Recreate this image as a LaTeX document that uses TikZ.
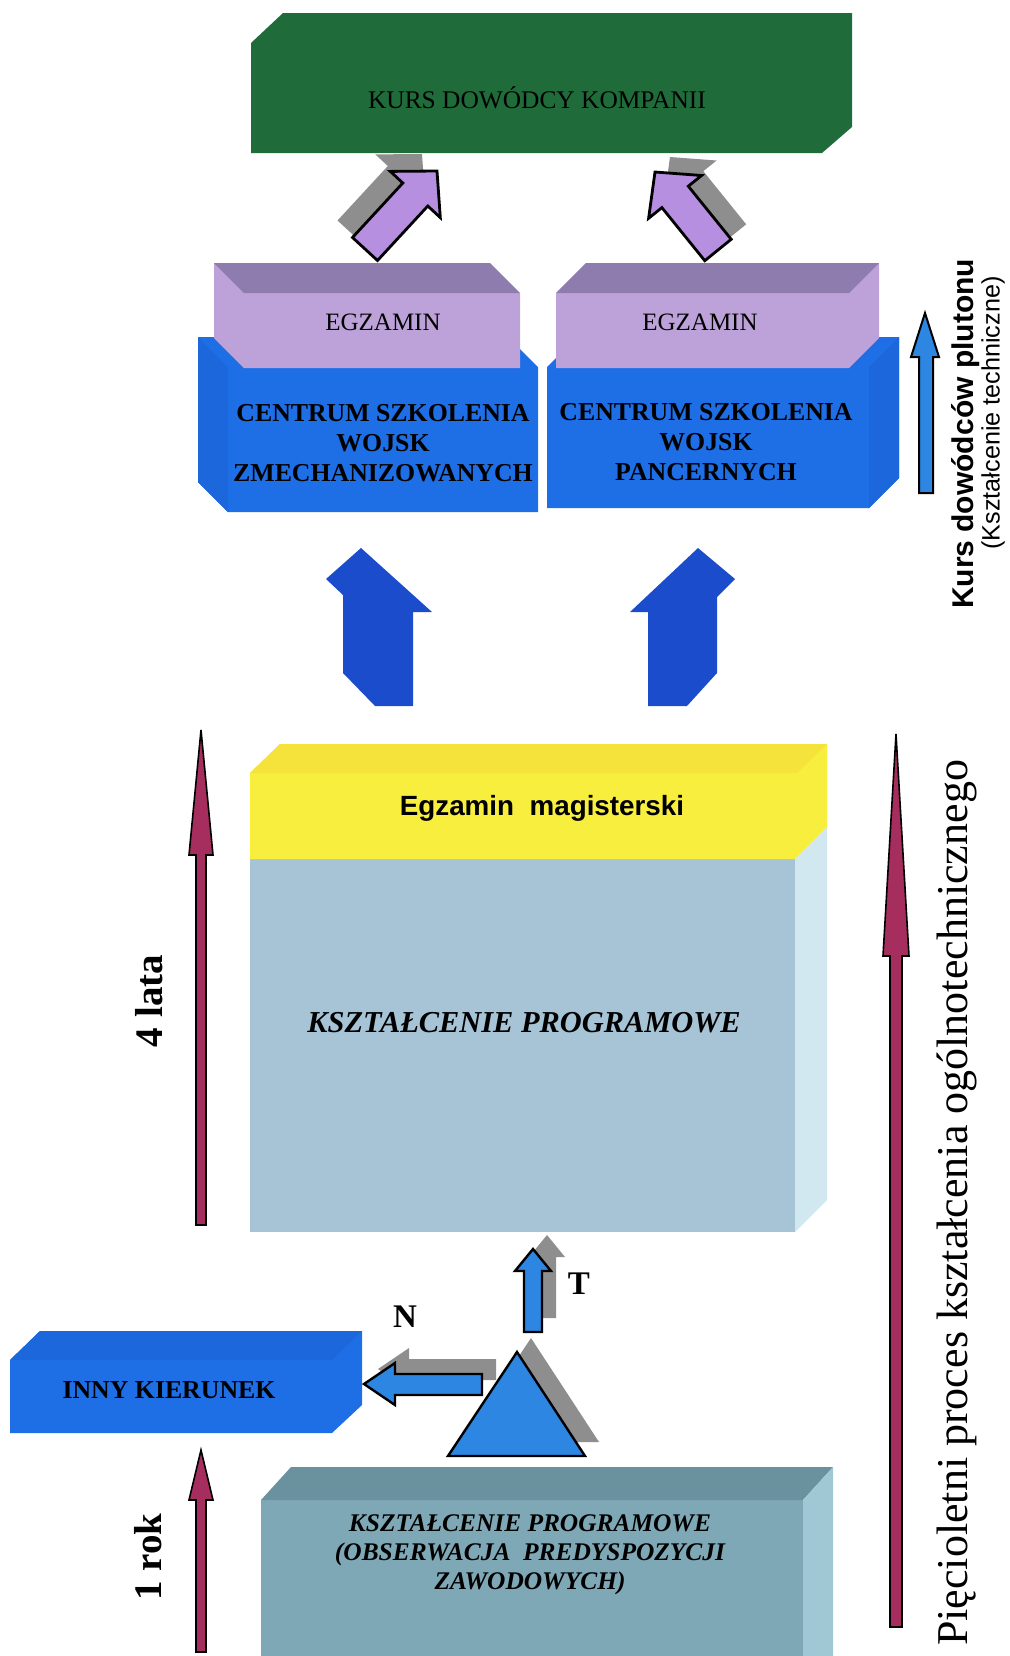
\documentclass[tikz,border=0pt]{standalone}
\usepackage{fontspec}
\setmainfont{Liberation Serif}
\setsansfont{Liberation Sans}
\definecolor{kgreen}{HTML}{1F6B3A}
\definecolor{lilacarrow}{HTML}{B68FE0}
\definecolor{lilactop}{HTML}{8E7CAE}
\definecolor{lilacfront}{HTML}{BDA2DA}
\definecolor{bluebox}{HTML}{1E6EE6}
\definecolor{blueboxtop}{HTML}{1C67DC}
\definecolor{bluedark}{HTML}{1A4CCB}
\definecolor{bluelight}{HTML}{2C86E2}
\definecolor{shadowgray}{HTML}{8E8E8E}
\definecolor{yel}{HTML}{F8EE3E}
\definecolor{yeltop}{HTML}{F5E23A}
\definecolor{lightblue}{HTML}{A6C4D6}
\definecolor{lightblueside}{HTML}{D2E8F0}
\definecolor{tealfront}{HTML}{7EA8B6}
\definecolor{tealtop}{HTML}{6A929E}
\definecolor{tealside}{HTML}{A0C8D4}
\definecolor{maroonarrow}{HTML}{A62E5E}
\begin{document}
\begin{tikzpicture}[x=0.5pt,y=-0.5pt,
  outl/.style={draw=black,line width=1.4pt,line join=miter},
  marr/.style={fill=maroonarrow,draw=black,line width=0.8pt,line join=miter},
  lbl/.style={inner sep=0pt,align=center,text=black}]
\path[use as bounding box] (0,0) rectangle (1010,1656);
\clip (0,0) rectangle (1010,1656);

% ---------- purple diagonal arrows (shadows first) ----------
\begin{scope}[shift={(-15,-17)}]
  \fill[shadowgray] (352.5,237.5) -- (402.8,183) -- (390.3,171.4) -- (437,171) -- (440.3,217.6) -- (427.8,206) -- (377.5,260.5) -- cycle;
\end{scope}
\begin{scope}[shift={(15,-15)}]
  \fill[shadowgray] (704.8,260.7) -- (661.9,207.6) -- (648.6,218.3) -- (655,172) -- (701.6,175.5) -- (688.3,186.2) -- (731.2,239.3) -- cycle;
\end{scope}
\draw[outl,fill=lilacarrow] (352.5,237.5) -- (402.8,183) -- (390.3,171.4) -- (437,171) -- (440.3,217.6) -- (427.8,206) -- (377.5,260.5) -- cycle;
\draw[outl,fill=lilacarrow] (704.8,260.7) -- (661.9,207.6) -- (648.6,218.3) -- (655,172) -- (701.6,175.5) -- (688.3,186.2) -- (731.2,239.3) -- cycle;

% ---------- green box ----------
\fill[kgreen] (251,43) -- (283,13) -- (852,13) -- (852,127) -- (822,153) -- (251,153) -- cycle;
\node[lbl,anchor=base,font=\fontsize{12.7}{15}\selectfont] (kurs) at (537,108) {KURS DOWÓDCY KOMPANII};

% ---------- blue boxes ----------
\fill[bluebox] (198,337) -- (508,337) -- (538,367) -- (538,512) -- (228,512) -- (198,482) -- cycle;
\fill[blueboxtop] (198,337) -- (228,367) -- (228,512) -- (198,482) -- cycle;
\fill[bluebox] (547,367) -- (577,337) -- (899,337) -- (899,478) -- (869,508) -- (547,508) -- cycle;
\fill[blueboxtop] (869,367) -- (899,337) -- (899,478) -- (869,508) -- cycle;

% ---------- purple exam boxes ----------
\fill[lilacfront] (214,263) -- (490,263) -- (520,293) -- (520,368) -- (244,368) -- (214,338) -- cycle;
\fill[lilactop] (214,263) -- (490,263) -- (520,293) -- (244,293) -- cycle;
\fill[lilacfront] (556,293) -- (586,263) -- (879,263) -- (879,338) -- (849,368) -- (556,368) -- cycle;
\fill[lilactop] (556,293) -- (586,263) -- (879,263) -- (849,293) -- cycle;

\node[lbl,font=\fontsize{12.5}{15}\selectfont] (egz1) at (383,322) {EGZAMIN};
\node[lbl,font=\fontsize{12.5}{15}\selectfont] (egz2) at (700,322) {EGZAMIN};
\node[lbl,font=\bfseries\fontsize{12.9}{15}\selectfont] (csw1) at (383,443) {CENTRUM SZKOLENIA\\WOJSK\\ZMECHANIZOWANYCH};
\node[lbl,font=\bfseries\fontsize{12.9}{15}\selectfont] (csw2) at (706,442) {CENTRUM SZKOLENIA\\WOJSK\\PANCERNYCH};

% ---------- right blue arrow and labels ----------
\draw[outl,line width=1pt,fill=bluelight] (925,313) -- (939,357) -- (933,357) -- (933,493) -- (919,493) -- (919,357) -- (911,357) -- cycle;
\node[lbl,rotate=90,font=\sffamily\bfseries\fontsize{15}{18}\selectfont] (kdp) at (966,434) {Kurs dowódców plutonu};
\node[lbl,rotate=90,font=\sffamily\fontsize{12.6}{15}\selectfont] (kt) at (993,413) {(Kształcenie techniczne)};

% ---------- big blue arrows ----------
\fill[bluedark] (361,548) -- (432,612) -- (413,612) -- (413,706) -- (375,706) -- (343,673) -- (343,595) -- (326,579) -- cycle;
\fill[bluedark] (698,548) -- (735,579) -- (717,597) -- (717,673) -- (687,706) -- (648,706) -- (648,612) -- (630,612) -- cycle;

% ---------- yellow + light blue column ----------
\fill[lightblue] (250,859) -- (795,859) -- (795,1232) -- (250,1232) -- cycle;
\fill[lightblueside] (795,859) -- (827,827) -- (827,1200) -- (795,1232) -- cycle;
\fill[yel] (250,773) -- (280,744) -- (827,744) -- (827,827) -- (795,859) -- (250,859) -- cycle;
\fill[yeltop] (250,773) -- (280,744) -- (827,744) -- (797,773) -- cycle;
\node[lbl,anchor=base,font=\sffamily\bfseries\fontsize{13.9}{16}\selectfont] (egm) at (542,815) {Egzamin\ \ magisterski};
\node[lbl,font=\bfseries\itshape\fontsize{15.2}{18}\selectfont] (kp) at (524,1023) {KSZTAŁCENIE PROGRAMOWE};

% ---------- maroon arrows and labels ----------
\draw[marr] (201,730) -- (213,855) -- (206,855) -- (206,1225) -- (196,1225) -- (196,855) -- (189,855) -- cycle;
\draw[marr] (201,1450) -- (213,1500) -- (206,1500) -- (206,1652) -- (196,1652) -- (196,1500) -- (189,1500) -- cycle;
\draw[marr] (896,734) -- (909,956) -- (902,956) -- (902,1627) -- (890,1627) -- (890,956) -- (883,956) -- cycle;
\node[lbl,rotate=90,font=\bfseries\fontsize{19.5}{22}\selectfont] (lata) at (149,1001) {4 lata};
\node[lbl,rotate=90,font=\bfseries\fontsize{19.5}{22}\selectfont] (rok) at (148,1557) {1 rok};
\node[lbl,rotate=90,font=\fontsize{22}{26}\selectfont] (proc) at (957,1203) {Pięcioletni proces kształcenia ogólnotechnicznego};

% ---------- bottom section ----------
\fill[bluebox] (10,1360) -- (40,1331) -- (362,1331) -- (362,1405) -- (332,1433) -- (10,1433) -- cycle;
\fill[blueboxtop] (10,1360) -- (40,1331) -- (362,1331) -- (332,1360) -- cycle;
\node[lbl,font=\bfseries\fontsize{12.9}{15}\selectfont] (inny) at (169,1390) {INNY KIERUNEK};

\begin{scope}[shift={(14,-14)}]
  \fill[shadowgray] (533,1249) -- (551,1271) -- (542,1271) -- (542,1332) -- (524,1332) -- (524,1271) -- (515,1271) -- cycle;
  \fill[shadowgray] (517,1352) -- (585,1456) -- (448,1456) -- cycle;
\end{scope}
\begin{scope}[shift={(14,-15)}]
  \fill[shadowgray] (364,1384) -- (395,1363) -- (395,1374) -- (482,1374) -- (482,1395) -- (395,1395) -- (395,1405) -- cycle;
\end{scope}
\draw[outl,line width=1.2pt,fill=bluelight] (364,1384) -- (395,1363) -- (395,1374) -- (482,1374) -- (482,1395) -- (395,1395) -- (395,1405) -- cycle;
\draw[outl,line width=1.2pt,fill=bluelight] (533,1249) -- (551,1271) -- (542,1271) -- (542,1332) -- (524,1332) -- (524,1271) -- (515,1271) -- cycle;
\draw[outl,line width=1.2pt,fill=bluelight] (517,1352) -- (585,1456) -- (448,1456) -- cycle;
\node[lbl,font=\bfseries\fontsize{16.5}{18}\selectfont] (n) at (405,1317) {N};
\node[lbl,font=\bfseries\fontsize{16.5}{18}\selectfont] (t) at (579,1284) {T};

\fill[tealfront] (261,1500) -- (803,1500) -- (803,1700) -- (261,1700) -- cycle;
\fill[tealtop] (261,1500) -- (291,1467) -- (833,1467) -- (803,1500) -- cycle;
\fill[tealside] (803,1500) -- (833,1467) -- (833,1700) -- (803,1700) -- cycle;
\node[lbl,font=\bfseries\itshape\fontsize{12.7}{14.5}\selectfont] (kpo) at (530,1555) {KSZTAŁCENIE PROGRAMOWE\\(OBSERWACJA\ \ PREDYSPOZYCJI\\ZAWODOWYCH)};
\end{tikzpicture}
\end{document}
